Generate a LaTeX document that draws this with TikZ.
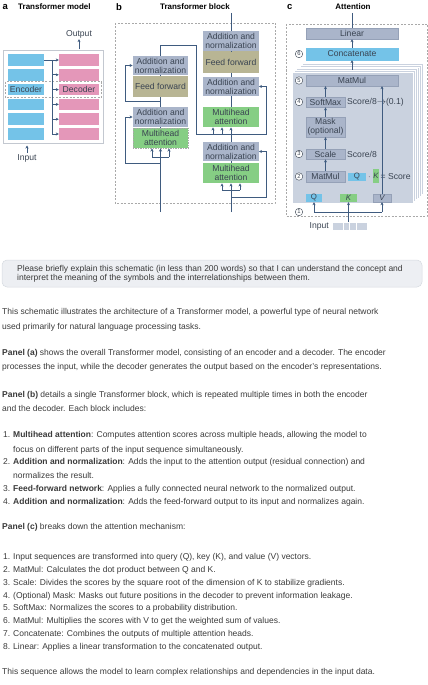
\documentclass[tikz,border=0pt]{standalone}
\usepackage{fontspec}
\setmainfont{Liberation Sans}
\usetikzlibrary{arrows.meta,positioning}

\definecolor{linec}{HTML}{3F5B7F}
\definecolor{encblue}{HTML}{74C3E8}
\definecolor{decpink}{HTML}{E497B9}
\definecolor{normgray}{HTML}{AAB5CA}
\definecolor{normedge}{HTML}{95A1B7}
\definecolor{ffolive}{HTML}{B8B594}
\definecolor{attgreen}{HTML}{86CE84}
\definecolor{stackc}{HTML}{CAD2DF}
\definecolor{dashc}{HTML}{A9A9A9}
\definecolor{framec}{HTML}{C3C8D0}
\definecolor{promptc}{HTML}{EDEFF3}
\definecolor{promptedge}{HTML}{D6DAE0}
\definecolor{boxtxt}{HTML}{3A4452}
\definecolor{bodyc}{HTML}{3A3A3A}

\tikzset{
	diag/.style={font=\fontsize{8.6}{8.9}\selectfont, text=boxtxt, inner sep=1pt},
	ttl/.style={font=\fontsize{8}{9}\selectfont\bfseries, text=black, inner sep=0pt},
	plab/.style={font=\fontsize{9.5}{9.5}\selectfont\bfseries, text=black, inner sep=0pt, anchor=west},
	blk/.style={diag, rectangle, inner sep=0pt, align=center, minimum width=55.5pt},
	normbox/.style={blk, fill=normgray, minimum height=19.5pt},
	ffbox/.style={blk, fill=ffolive, minimum height=21pt},
	attbox/.style={blk, fill=attgreen, minimum height=20.5pt},
	cbox/.style={diag, rectangle, inner sep=0pt, fill=normgray, draw=normedge, line width=0.4pt, align=center},
	tiny/.style={font=\fontsize{7.8}{8}\selectfont, text=boxtxt, inner sep=0pt, rectangle},
	encrow/.style={fill=encblue, minimum width=36pt, minimum height=11.5pt, inner sep=0pt},
	decrow/.style={fill=decpink, minimum width=40pt, minimum height=11.5pt, inner sep=0pt},
	stepnum/.style={circle, draw=boxtxt, fill=white, line width=0.4pt, inner sep=0pt, minimum size=7.5pt, font=\fontsize{5.8}{6}\selectfont, text=boxtxt},
	flow/.style={draw=linec, line width=0.8pt},
	arr/.style={flow, -{Stealth[length=3pt, width=3pt]}},
	dframe/.style={draw=dashc, line width=0.6pt, dash pattern=on 2pt off 1.5pt},
	bodytxt/.style={anchor=base west, inner sep=0pt, font=\fontsize{8.5}{10}\selectfont, text=bodyc},
}

\begin{document}
\begin{tikzpicture}[x=1pt, y=-1pt]
	\useasboundingbox (0,0) rectangle (428,685);

	% a: overall model
	\node[plab] (alab) at (2.5,7) {a};
	\node[ttl, anchor=west] (atitle) at (18,7) {Transformer model};
	\draw[draw=framec, line width=0.6pt] (3,50) rectangle (103,143);
	\foreach \i in {0,...,5} {
		\node[encrow] (e\i) at (26,{60+14.8*\i}) {};
		\node[decrow] (d\i) at (79,{60+14.8*\i}) {};
	}
	\node[diag] (enctxt) at (e2) {Encoder};
	\node[diag] (dectxt) at (d2) {Decoder};
	\draw[dframe] (5,81.5) rectangle (101,97.5);
	\coordinate (asplit) at (52,60);
	\draw[arr] (e0.east) -- (d0.west);
	\draw[arr] (asplit) |- (d5.west);
	\foreach \i in {1,...,4}
		\draw[arr] (asplit |- d\i.west) -- (d\i.west);
	\node[diag] (outtxt) at (79,34) {Output};
	\coordinate (aout) at (79,49.5);
	\draw[arr] (aout) -- (outtxt.south);
	\node[diag] (intxt) at (27,158) {Input};
	\coordinate (ain) at (27,145.5);
	\draw[arr] (intxt.north) -- (ain);

	% b: one block
	\node[plab] (blab) at (116,7) {b};
	\node[ttl] (btitle) at (195,7) {Transformer block};
	\draw[dframe] (115,23) rectangle (275,203);
	\node[normbox] (lnA) at (160.5,65.5) {Addition and\\normalization};
	\node[ffbox] (lff) at (160.5,86.5) {Feed forward};
	\node[normbox] (lnB) at (160.5,117) {Addition and\\normalization};
	\node[attbox, draw=dashc, dash pattern=on 1.5pt off 1pt, line width=0.5pt] (lmh) at (160.5,138) {Multihead\\attention};
	\node[normbox] (rnA) at (231,41) {Addition and\\normalization};
	\node[ffbox] (rff) at (231,62) {Feed forward};
	\node[normbox] (rnB) at (231,86.5) {Addition and\\normalization};
	\node[attbox] (rmhA) at (231,117) {Multihead\\attention};
	\node[normbox] (rnC) at (231,151.5) {Addition and\\normalization};
	\node[attbox] (rmhB) at (231,173) {Multihead\\attention};

	\draw[flow] (lnA.south) -- (lff.north);
	\draw[flow] (lff.south) -- (lnB.north);
	\draw[flow] (lnB.south) -- (lmh.north);
	\coordinate (lin) at (160.5,212);
	\coordinate (lbar) at (160.5,157);
	\coordinate (lresA) at (160.5,101);
	\coordinate (lresB) at (160.5,163);
	\draw[flow] (lin) -- (lbar);
	\draw[flow] ([xshift=-8.5pt]lbar) -- ([xshift=8.5pt]lbar);
	\foreach \dx in {-8.5,0,8.5} {
		\path (lbar) ++(\dx,0) coordinate (lh);
		\draw[arr] (lh) -- (lh |- lmh.south);
	}
	\draw[arr] (lresB) -| ([xshift=-7pt]lnB.west) -- (lnB.west);
	\draw[arr] (lresA) -| ([xshift=-7pt]lnA.west) -- (lnA.west);

	\coordinate (btop) at (231,13);
	\draw[flow] (btop) -- (rnA.north);
	\draw[flow] (rnA.south) -- (rff.north);
	\draw[flow] (rff.south) -- (rnB.north);
	\draw[flow] (rnB.south) -- (rmhA.north);
	\draw[flow] (rmhB.north) -- (rnC.south);
	\draw[arr] (rnC.north) -- (rmhA.south);
	\coordinate (rin) at (231,212);
	\coordinate (rbar) at (231,190);
	\coordinate (rres) at (231,197);
	\draw[flow] (rin) -- (rbar);
	\draw[flow] ([xshift=-9pt]rbar) -- ([xshift=9pt]rbar);
	\foreach \dx in {-9,0,9} {
		\path (rbar) ++(\dx,0) coordinate (rh);
		\draw[arr] (rh) -- (rh |- rmhB.south);
	}
	\draw[arr] (rres) -| ([xshift=7pt]rnC.east) -- (rnC.east);

	% encoder output into the decoder
	\coordinate (ltop) at (160.5,45);
	\coordinate (lturn) at (196,45);
	\coordinate (xbar) at (196,134);
	\draw[arr] (lnA.north) -- (ltop) -- (lturn) -- (xbar) -| ([xshift=7pt]rnB.east) -- (rnB.east);
	\foreach \dx in {-18,-9} {
		\path (rmhA.south) ++(\dx,0) coordinate (xh);
		\draw[arr] (xh |- xbar) -- (xh);
	}

	% c: attention
	\node[plab] (clab) at (287,7) {c};
	\node[ttl] (ctitle) at (353,7) {Attention};
	\draw[dframe] (286,24) rectangle (427,216);
	\foreach \k in {5,4,3,2,1}
		\draw[draw=white, line width=0.5pt, fill=stackc] ({292+2*\k},{72-1.7*\k}) rectangle ({413+2*\k},{203-1.7*\k});
	\draw[draw=white, line width=0.5pt, fill=stackc] (292,72) rectangle (413,203);

	\node[cbox, minimum width=92pt, minimum height=11pt] (linear) at (352,33.5) {Linear};
	\node[cbox, fill=encblue, draw=encblue, minimum width=92pt, minimum height=12pt] (concat) at (352,54) {Concatenate};
	\node[cbox, minimum width=92pt, minimum height=11pt] (matmulA) at (352,80.5) {MatMul};
	\node[cbox, minimum width=39pt, minimum height=10.5pt] (softmax) at (325.5,102) {SoftMax};
	\node[cbox, minimum width=39pt, minimum height=20pt] (mask) at (325.5,127) {Mask\\(optional)};
	\node[cbox, minimum width=39pt, minimum height=10.5pt] (scale) at (325.5,154) {Scale};
	\node[cbox, minimum width=39pt, minimum height=11pt] (matmulB) at (325.5,176.5) {MatMul};
	\node[diag, anchor=west] (smtxt) at (346,102) {Score/8$\to$(0.1)};
	\node[diag, anchor=west] (sctxt) at (346,154) {Score/8};
	\node[tiny, fill=encblue, minimum width=18pt, minimum height=8pt] (qs) at (357,177) {Q};
	\node[diag] (dot) at (369.5,177) {$\cdot$};
	\node[tiny, fill=attgreen, minimum width=6pt, minimum height=14pt] (ks) at (376,176) {\itshape K};
	\node[diag, anchor=west] (eqs) at (379.5,176.5) {= Score};
	\node[tiny, fill=encblue, minimum width=16pt, minimum height=8pt] (qin) at (314,198) {Q};
	\node[tiny, fill=attgreen, minimum width=17pt, minimum height=8pt] (kin) at (348.5,198) {\itshape K};
	\node[tiny, fill=normgray, draw=normedge, line width=0.4pt, minimum width=18pt, minimum height=8pt] (vin) at (382,198) {\itshape V};
	\foreach \n/\y in {6/54,5/80.5,4/102,3/154,2/176.5,1/212}
		\node[stepnum] (n\n) at (299,\y) {\n};

	\coordinate (ctop) at (352,13);
	\coordinate (stacktop) at (352,70);
	\draw[flow] (ctop) -- (linear.north);
	\draw[arr] (concat.north) -- (linear.south);
	\draw[arr] (stacktop) -- (concat.south);
	\draw[arr] (softmax.north) -- (softmax.north |- matmulA.south);
	\draw[arr] (mask.north) -- (softmax.south);
	\draw[arr] (scale.north) -- (mask.south);
	\draw[arr] (matmulB.north) -- (scale.south);
	\draw[arr] (vin.north) -- (vin.north |- matmulA.south);

	\node[diag, anchor=east] (cintxt) at (330,226) {Input};
	\foreach \a/\b in {332/343,343/349.5,349.5/356,356/367}
		\draw[draw=white, line width=0.5pt, fill=stackc] (\a,222) rectangle (\b,230);
	\coordinate (cin) at (348.5,222);
	\coordinate (cjoin) at (348.5,212);
	\draw[arr] (cin) -- (kin.south);
	\draw[flow] (qin.south |- cjoin) -- (vin.south |- cjoin);
	\draw[arr] (qin.south |- cjoin) -- (qin.south);
	\draw[arr] (vin.south |- cjoin) -- (vin.south);

	% prompt
	\draw[draw=promptedge, fill=promptc, rounded corners=5pt, line width=0.5pt] (2,260) rectangle (422,287);
	\node[bodytxt] (p1) at (17,271.3) {Please briefly explain this schematic (in less than 200 words) so that I can understand the concept and};
	\node[bodytxt] (p2) at (17,280.7) {interpret the meaning of the symbols and the interrelationships between them.};

	% answer
	\foreach \x/\y/\txt [count=\i] in {
		2/314.7/{This schematic illustrates the architecture of a Transformer model, a powerful type of neural network},
		2/329/{used primarily for natural language processing tasks.},
		2/355.7/{\textbf{Panel (a)} shows the overall Transformer model, consisting of an encoder and a decoder. The encoder},
		2/369.7/{processes the input, while the decoder generates the output based on the encoder's representations.},
		2/397/{\textbf{Panel (b)} details a single Transformer block, which is repeated multiple times in both the encoder},
		2/411.3/{and the decoder. Each block includes:},
		3/437.3/{1.}, 13/437.3/{\textbf{Multihead attention}: Computes attention scores across multiple heads, allowing the model to},
		13/452/{focus on different parts of the input sequence simultaneously.},
		3/464.7/{2.}, 13/464.7/{\textbf{Addition and normalization}: Adds the input to the attention output (residual connection) and},
		13/478/{normalizes the result.},
		3/491.3/{3.}, 13/491.3/{\textbf{Feed-forward network}: Applies a fully connected neural network to the normalized output.},
		3/504/{4.}, 13/504/{\textbf{Addition and normalization}: Adds the feed-forward output to its input and normalizes again.},
		2/529.7/{\textbf{Panel (c)} breaks down the attention mechanism:},
		3/559.7/{1.}, 13/559.7/{Input sequences are transformed into query (Q), key (K), and value (V) vectors.},
		3/572/{2.}, 13/572/{MatMul: Calculates the dot product between Q and K.},
		3/585.3/{3.}, 13/585.3/{Scale: Divides the scores by the square root of the dimension of K to stabilize gradients.},
		3/598/{4.}, 13/598/{(Optional) Mask: Masks out future positions in the decoder to prevent information leakage.},
		3/610.7/{5.}, 13/610.7/{SoftMax: Normalizes the scores to a probability distribution.},
		3/623.7/{6.}, 13/623.7/{MatMul: Multiplies the scores with V to get the weighted sum of values.},
		3/636.3/{7.}, 13/636.3/{Concatenate: Combines the outputs of multiple attention heads.},
		3/649/{8.}, 13/649/{Linear: Applies a linear transformation to the concatenated output.},
		2/674.7/{This sequence allows the model to learn complex relationships and dependencies in the input data.}}
		\node[bodytxt] (t\i) at (\x,\y) {\txt};
\end{tikzpicture}
\end{document}
